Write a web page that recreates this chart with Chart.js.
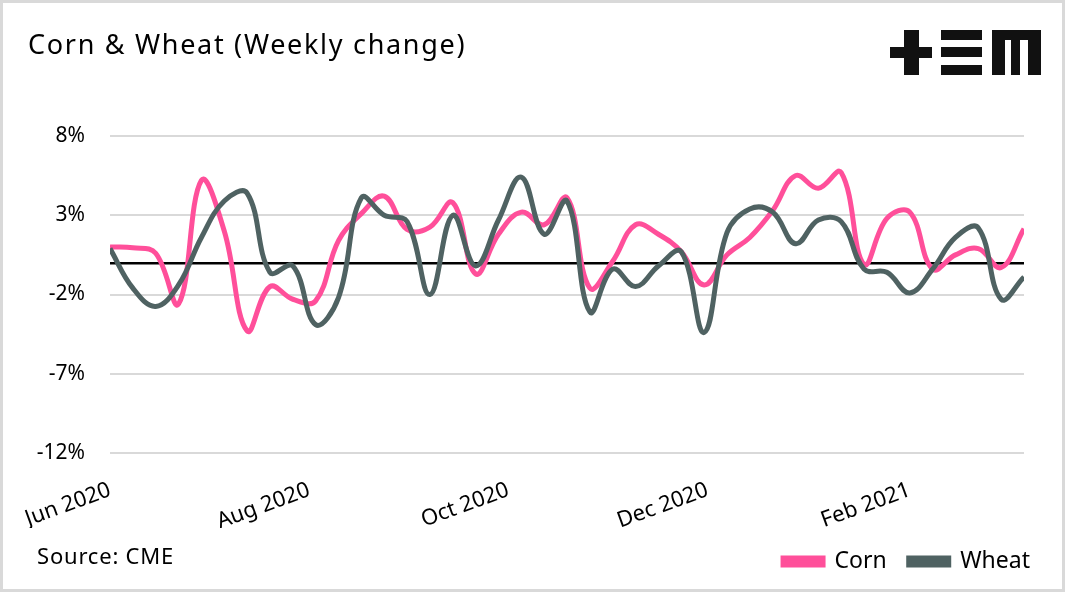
<!DOCTYPE html>
<html>
<head>
<meta charset="utf-8">
<title>Corn & Wheat (Weekly change)</title>
<script src="https://cdn.jsdelivr.net/npm/chart.js"></script>
<style>
  body { margin: 0; background: #fff; }
  canvas { display: block; }
</style>
</head>
<body>
<canvas id="chart" width="1065" height="592"></canvas>
<script>
/* Data (weekly % change) */
const weeks = [
  "2020-06-05", "2020-06-12", "2020-06-19", "2020-06-26", "2020-07-03", "2020-07-10",
  "2020-07-17", "2020-07-24", "2020-07-31", "2020-08-07", "2020-08-14", "2020-08-21",
  "2020-08-28", "2020-09-04", "2020-09-11", "2020-09-18", "2020-09-25", "2020-10-02",
  "2020-10-09", "2020-10-16", "2020-10-23", "2020-10-30", "2020-11-06", "2020-11-13",
  "2020-11-20", "2020-11-27", "2020-12-04", "2020-12-11", "2020-12-18", "2020-12-25",
  "2021-01-01", "2021-01-08", "2021-01-15", "2021-01-22", "2021-01-29", "2021-02-05",
  "2021-02-12", "2021-02-19", "2021-02-26", "2021-03-05", "2021-03-12"
];
const corn = [
  1.0, 0.95, 0.6, -2.6, 5.2, 2.0, -4.3, -1.5, -2.3, -2.4,
  1.4, 3.1, 4.2, 2.1, 2.25, 3.8, -0.7, 1.8, 3.2, 2.4,
  4.1, -1.6, 0.1, 2.4, 1.8, 0.7, -1.4, 0.5, 1.6, 3.3,
  5.5, 4.7, 5.7, -0.1, 2.8, 3.2, -0.4, 0.5, 0.9, -0.3,
  2.15
];
const wheat = [
  0.9, -1.6, -2.75, -1.4, 1.6, 3.9, 4.4, -0.6, -0.2, -3.9,
  -2.2, 4.1, 3.0, 2.6, -2.0, 3.0, -0.2, 2.7, 5.4, 1.8,
  3.9, -3.1, -0.4, -1.5, -0.2, 0.7, -4.4, 1.9, 3.4, 3.2,
  1.2, 2.7, 2.6, -0.4, -0.6, -1.9, -0.4, 1.6, 2.2, -2.3,
  -0.9
];
const tickLabels = ["Jun 2020", "Aug 2020", "Oct 2020", "Dec 2020", "Feb 2021"];
const tickDates = ["2020-06-05", "2020-08-05", "2020-10-05", "2020-12-05", "2021-02-05"];
const yTicks = [-12, -7, -2, 0, 3, 8];

const FONT = "'Noto Sans', sans-serif";
const dayOf = d => (Date.parse(d) - Date.parse(weeks[0])) / 864e5;
const toPoints = vals => vals.map((v, i) => ({ x: dayOf(weeks[i]), y: v }));

/*
Frame, title, source and logo
*/
const decor = {
  id: "decor",
  beforeDraw(c) {
    const g = c.ctx;
    g.save();
    g.fillStyle = "#fff";
    g.fillRect(0, 0, c.width, c.height);
    g.restore();
  },
  afterDraw(c) {
    const g = c.ctx;
    g.save();
    g.strokeStyle = "#d9d9d9";
    g.lineWidth = 3;
    g.strokeRect(1.5, 1.5, 1062, 589);

    g.fillStyle = "#000";
    g.textBaseline = "middle";
    g.font = "27px " + FONT;
    g.letterSpacing = "1.7px";
    g.fillText("Corn & Wheat (Weekly change)", 28, 46);
    g.font = "22px " + FONT;
    g.letterSpacing = "0.8px";
    g.fillText("Source: CME", 37, 558);
    g.letterSpacing = "0px";

    // logo
    g.fillStyle = "#111";
    g.fillRect(904, 30, 15, 45);
    g.fillRect(890, 47, 42, 11);
    g.fillRect(941, 30, 41, 10);
    g.fillRect(941, 47, 41, 10);
    g.fillRect(941, 65, 41, 10);
    g.fillRect(992, 30, 49, 10);
    g.fillRect(992, 30, 13, 45);
    g.fillRect(1011, 30, 9, 45);
    g.fillRect(1028, 30, 13, 45);
    g.restore();
  }
};

const chart = new Chart(document.getElementById("chart"), {
  type: "line",
  data: {
    datasets: [
      {
        label: "Corn",
        data: toPoints(corn),
        borderColor: "#ff4f9a",
        backgroundColor: "#ff4f9a",
        borderWidth: 5,
        pointRadius: 0,
        tension: 0.4,
        order: 1
      },
      {
        label: "Wheat",
        data: toPoints(wheat),
        borderColor: "#4f6262",
        backgroundColor: "#4f6262",
        borderWidth: 5,
        pointRadius: 0,
        tension: 0.4,
        order: 0
      }
    ]
  },
  options: {
    responsive: false,
    animation: false,
    layout: { padding: { top: 136, left: 0, right: 13, bottom: 9 } },
    plugins: {
      tooltip: { enabled: false },
      legend: {
        position: "bottom",
        align: "end",
        labels: {
          boxWidth: 40,
          boxHeight: 7,
          padding: 22,
          color: "#000",
          font: { family: FONT, size: 23 },
          sort: (a, b) => a.datasetIndex - b.datasetIndex
        }
      }
    },
    scales: {
      x: {
        type: "linear",
        min: 0,
        max: dayOf(weeks[weeks.length - 1]),
        grid: { display: false },
        border: { display: false },
        afterBuildTicks: s => { s.ticks = tickDates.map(d => ({ value: dayOf(d) })); },
        afterFit: s => { s.height = 75; },
        ticks: {
          minRotation: 20,
          maxRotation: 20,
          padding: 16,
          color: "#000",
          font: { family: FONT, size: 22 },
          callback: (v, i) => tickLabels[i]
        }
      },
      y: {
        min: -12,
        max: 8,
        afterBuildTicks: s => { s.ticks = yTicks.map(v => ({ value: v })); },
        afterFit: s => { s.width = 110; },
        border: { display: false },
        grid: {
          drawTicks: false,
          color: ctx => ctx.tick && ctx.tick.value === 0 ? "#000" : "#d9d9d9",
          lineWidth: ctx => ctx.tick && ctx.tick.value === 0 ? 2.5 : 2
        },
        ticks: {
          padding: 25,
          color: "#000",
          font: { family: FONT, size: 21 },
          callback: v => v === 0 ? "" : v + "%"
        }
      },
      yRight: {
        position: "right",
        grid: { display: false },
        border: { display: false },
        ticks: { display: false },
        afterFit: s => { s.width = 28; }
      }
    }
  },
  plugins: [decor]
});
</script>
</body>
</html>
